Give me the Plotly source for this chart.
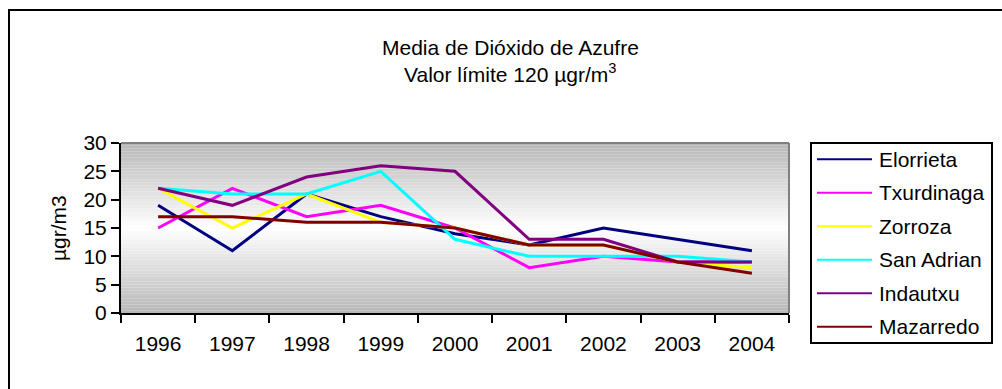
import plotly.graph_objects as go

# Annual mean SO2 by monitoring station
years = ["1996", "1997", "1998", "1999", "2000", "2001", "2002", "2003", "2004"]
elorrieta = [19, 11, 21, 17, 14, 12, 15, 13, 11]
txurdinaga = [15, 22, 17, 19, 15, 8, 10, 9, 9]
zorroza = [22, 15, 21, 16, 15, 12, 12, 9, 8]
san_adrian = [22, 21, 21, 25, 13, 10, 10, 10, 9]
indautxu = [22, 19, 24, 26, 25, 13, 13, 9, 9]
mazarredo = [17, 17, 16, 16, 15, 12, 12, 9, 7]

series = [
    ("Elorrieta", elorrieta, "#000080"),
    ("Txurdinaga", txurdinaga, "#FF00FF"),
    ("Zorroza", zorroza, "#FFFF00"),
    ("San Adrian", san_adrian, "#00FFFF"),
    ("Indautxu", indautxu, "#800080"),
    ("Mazarredo", mazarredo, "#800000"),
]

W, H = 1002, 389
L, R, T, B = 121, 213, 143, 76
PW, PH = W - L - R, H - T - B
FONT = "Arial, Liberation Sans, sans-serif"
FS = 21


def px(x):
    return (x - L) / PW


def py(y):
    return (H - B - y) / PH


fig = go.Figure()
for name, vals, col in series:
    fig.add_trace(go.Scatter(x=years, y=vals, mode="lines", name=name,
                             line=dict(color=col, width=3), showlegend=False))

shapes = []
# vertical gradient backdrop: grey at edges, white in the middle
n = 60
for i in range(n):
    t = (i + 0.5) / n
    d = abs(t - 0.5) * 2
    g = int(round(255 - (255 - 182) * d))
    shapes.append(dict(type="rect", xref="paper", yref="paper", x0=0, x1=1,
                       y0=i / n, y1=(i + 1) / n, fillcolor=f"rgb({g},{g},{g})",
                       line=dict(width=0), layer="below"))
# grey top/right frame of plot area
shapes.append(dict(type="line", xref="paper", yref="paper", x0=0, x1=1, y0=1, y1=1,
                   line=dict(color="#808080", width=2)))
shapes.append(dict(type="line", xref="paper", yref="paper", x0=1, x1=1, y0=0, y1=1,
                   line=dict(color="#808080", width=2)))
# outer chart frame (left and top edges)
shapes.append(dict(type="line", xref="paper", yref="paper", x0=px(9), x1=px(9),
                   y0=py(9), y1=py(H + 5), line=dict(color="black", width=2)))
shapes.append(dict(type="line", xref="paper", yref="paper", x0=px(9), x1=px(W + 5),
                   y0=py(10), y1=py(10), line=dict(color="black", width=2)))
# legend box
shapes.append(dict(type="rect", xref="paper", yref="paper", x0=px(811), x1=px(992),
                   y0=py(343), y1=py(143), line=dict(color="black", width=2),
                   fillcolor="white"))

annotations = [
    dict(text="Media de Dióxido de Azufre", x=px(510), y=py(47), xref="paper", yref="paper",
         xanchor="center", yanchor="middle", showarrow=False,
         font=dict(family=FONT, size=FS, color="black")),
    dict(text="Valor límite 120 µgr/m<sup>3</sup>", x=px(510), y=py(73), xref="paper",
         yref="paper", xanchor="center", yanchor="middle", showarrow=False,
         font=dict(family=FONT, size=FS, color="black")),
    dict(text="µgr/m3", x=px(58), y=py(228), xref="paper", yref="paper", textangle=-90,
         xanchor="center", yanchor="middle", showarrow=False,
         font=dict(family=FONT, size=FS, color="black")),
]

# legend entries
y0 = 159.3
step = 33.5
for i, (name, vals, col) in enumerate(series):
    yy = y0 + i * step
    shapes.append(dict(type="line", xref="paper", yref="paper", x0=px(817), x1=px(872),
                       y0=py(yy), y1=py(yy), line=dict(color=col, width=2)))
    annotations.append(dict(text=name, x=px(877), y=py(yy), xref="paper", yref="paper",
                            xanchor="left", yanchor="middle", showarrow=False,
                            font=dict(family=FONT, size=FS, color="black")))

fig.update_layout(
    width=W, height=H,
    margin=dict(l=L, r=R, t=T, b=B, pad=0),
    paper_bgcolor="white", plot_bgcolor="white",
    shapes=shapes, annotations=annotations,
    font=dict(family=FONT, size=FS, color="black"),
    xaxis=dict(type="category", range=[-0.5, 8.5], tickson="boundaries",
               ticks="outside", ticklen=8, tickwidth=2, tickcolor="black",
               ticklabelstandoff=11,
               showline=True, linecolor="black", linewidth=2, showgrid=False,
               zeroline=False, tickfont=dict(family=FONT, size=FS)),
    yaxis=dict(range=[0, 30], dtick=5, ticks="outside", ticklen=8, tickwidth=2,
               tickcolor="black", showline=True, linecolor="black", linewidth=2,
               showgrid=False, zeroline=False, tickfont=dict(family=FONT, size=FS)),
)

fig.write_html("out.html")
